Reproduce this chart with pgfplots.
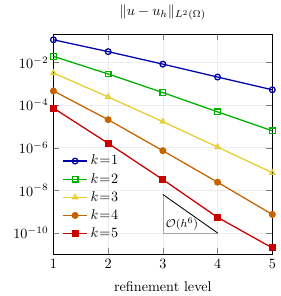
\documentclass[border=0pt]{standalone}
\usepackage{pgfplots}
\pgfplotsset{compat=1.18}
\definecolor{cblue}{RGB}{0,0,170}
\definecolor{cgreen}{RGB}{0,175,0}
\definecolor{cyellow}{RGB}{230,205,50}
\definecolor{corange}{RGB}{200,100,0}
\definecolor{cred}{RGB}{200,0,0}
\begin{document}
\begin{tikzpicture}
\begin{axis}[
  scale only axis,
  width=154pt, height=155pt,
  ymode=log,
  xmin=1, xmax=5, ymin=1e-11, ymax=0.215,
  xtick={1,2,3,4,5},
  ytick={1e-2,1e-4,1e-6,1e-8,1e-10},
  grid=major,
  major grid style={gray!15},
  title={$\|u-u_h\|_{L^2(\Omega)}$},
  xlabel={refinement level},
  xlabel style={yshift=-2pt},
  legend style={draw=none, fill=none, at={(0.02,0.04)}, anchor=south west, row sep=0.3pt},
  legend cell align=left,
  every axis plot/.append style={line width=0.9pt},
]
\addplot[cblue, mark=o, mark options={fill=white}] coordinates {(1,0.115) (2,0.032) (3,0.0083) (4,0.00206) (5,0.00052)};
\addlegendentry{$k\mkern1mu{=}\mkern1mu1$}
\addplot[cgreen, mark=square, mark options={fill=white}] coordinates {(1,0.0193) (2,0.00286) (3,3.85e-4) (4,4.8e-5) (5,6.2e-6)};
\addlegendentry{$k\mkern1mu{=}\mkern1mu2$}
\addplot[cyellow, mark=triangle, mark options={fill=white}] coordinates {(1,3.2e-3) (2,2.4e-4) (3,1.66e-5) (4,1.07e-6) (5,6.7e-8)};
\addlegendentry{$k\mkern1mu{=}\mkern1mu3$}
\addplot[corange, mark=*] coordinates {(1,4.6e-4) (2,2.06e-5) (3,7.2e-7) (4,2.4e-8) (5,7.4e-10)};
\addlegendentry{$k\mkern1mu{=}\mkern1mu4$}
\addplot[cred, mark=square*] coordinates {(1,7.2e-5) (2,1.6e-6) (3,3.2e-8) (4,5.4e-10) (5,2.0e-11)};
\addlegendentry{$k\mkern1mu{=}\mkern1mu5$}
\addplot[gray!70, line width=0.5pt, forget plot] coordinates {(3,6.4e-9) (3,1e-10) (4,1e-10)};
\addplot[black, line width=0.6pt, forget plot] coordinates {(3,6.4e-9) (4,1e-10)};
\node[anchor=south west, font=\footnotesize, inner sep=2pt] at (axis cs:3,1e-10) {$\mathcal{O}(h^6)$};
\end{axis}
\path (current bounding box.west) ++(-6pt,0);
\end{tikzpicture}
\end{document}
